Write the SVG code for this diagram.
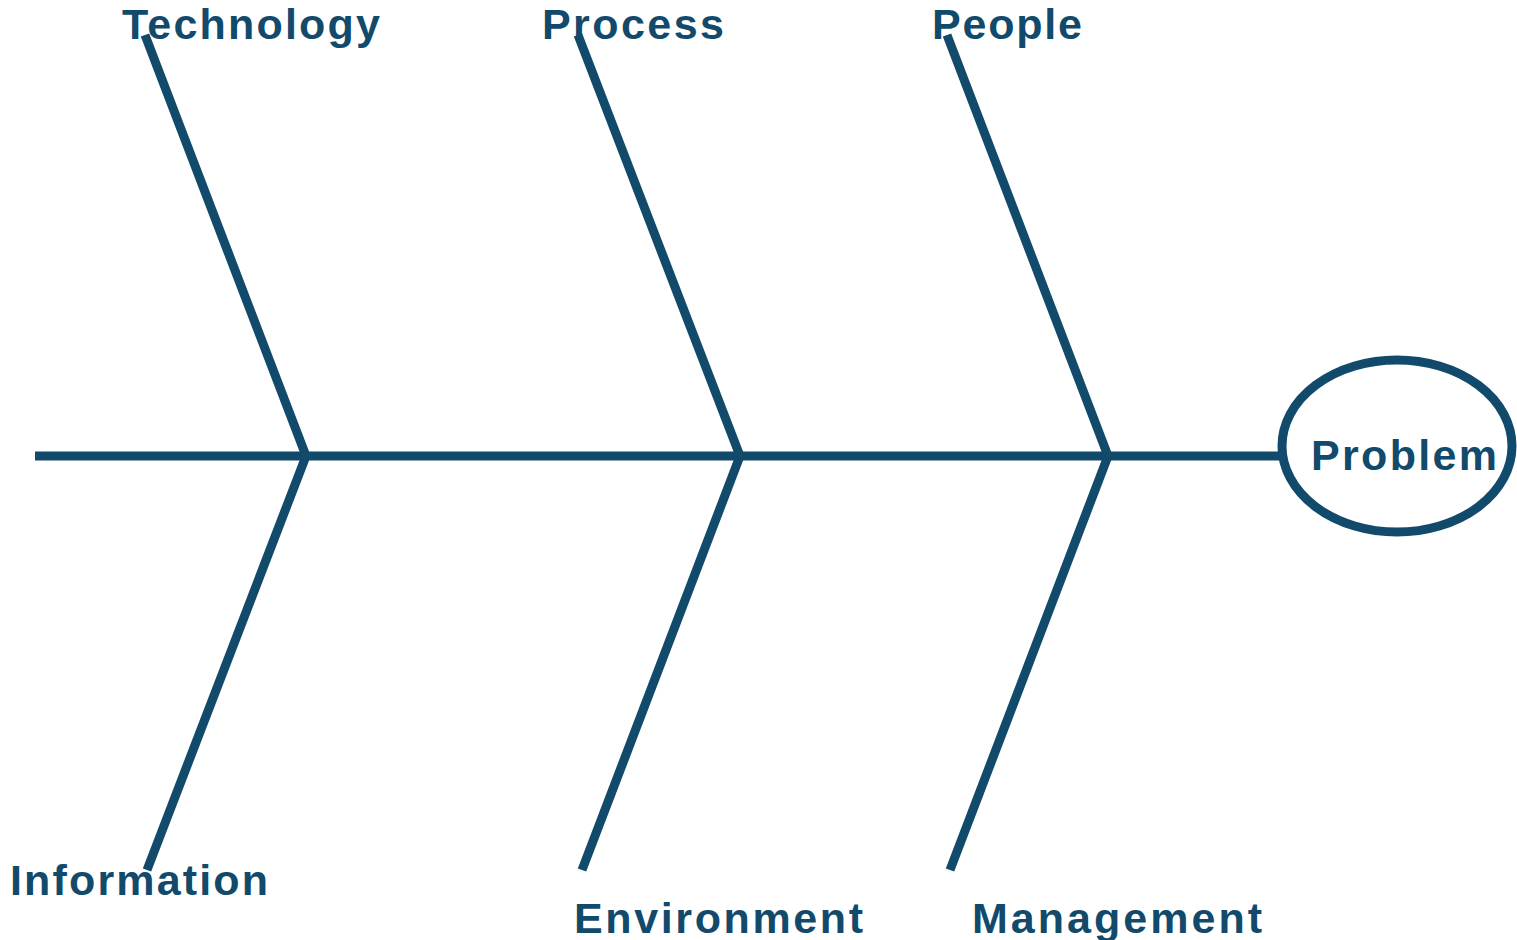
<svg xmlns="http://www.w3.org/2000/svg" width="1517" height="940" viewBox="0 0 1517 940">
<style>
.ln{fill:none;stroke:#124a6c;stroke-width:9;stroke-linejoin:miter;stroke-linecap:butt}
.t{font-family:"Liberation Sans",Arial,sans-serif;font-weight:bold;font-size:43px;fill:#124a6c}
</style>
<rect width="1517" height="940" fill="#ffffff"/>
<g id="connectors">
<path class="ln" d="M35,456 L1280,456"/>
<path class="ln" d="M145,35 L306,456 L147,870"/>
<path class="ln" d="M578,35 L740,456 L582,870"/>
<path class="ln" d="M947,35 L1108,456 L950,870"/>
</g>
<g id="problem">
<ellipse cx="1397" cy="446" rx="115" ry="86" fill="#ffffff" stroke="#124a6c" stroke-width="9"/>
<text class="t" x="1311" y="470" textLength="186" lengthAdjust="spacing">Problem</text>
</g>
<g id="technology"><text class="t" x="122" y="39" textLength="258" lengthAdjust="spacing">Technology</text></g>
<g id="process"><text class="t" x="542" y="39" textLength="182" lengthAdjust="spacing">Process</text></g>
<g id="people"><text class="t" x="932" y="39" textLength="150" lengthAdjust="spacing">People</text></g>
<g id="information"><text class="t" x="10" y="895" textLength="258" lengthAdjust="spacing">Information</text></g>
<g id="environment"><text class="t" x="574" y="933" textLength="289" lengthAdjust="spacing">Environment</text></g>
<g id="management"><text class="t" x="972" y="933" textLength="290" lengthAdjust="spacing">Management</text></g>
</svg>
